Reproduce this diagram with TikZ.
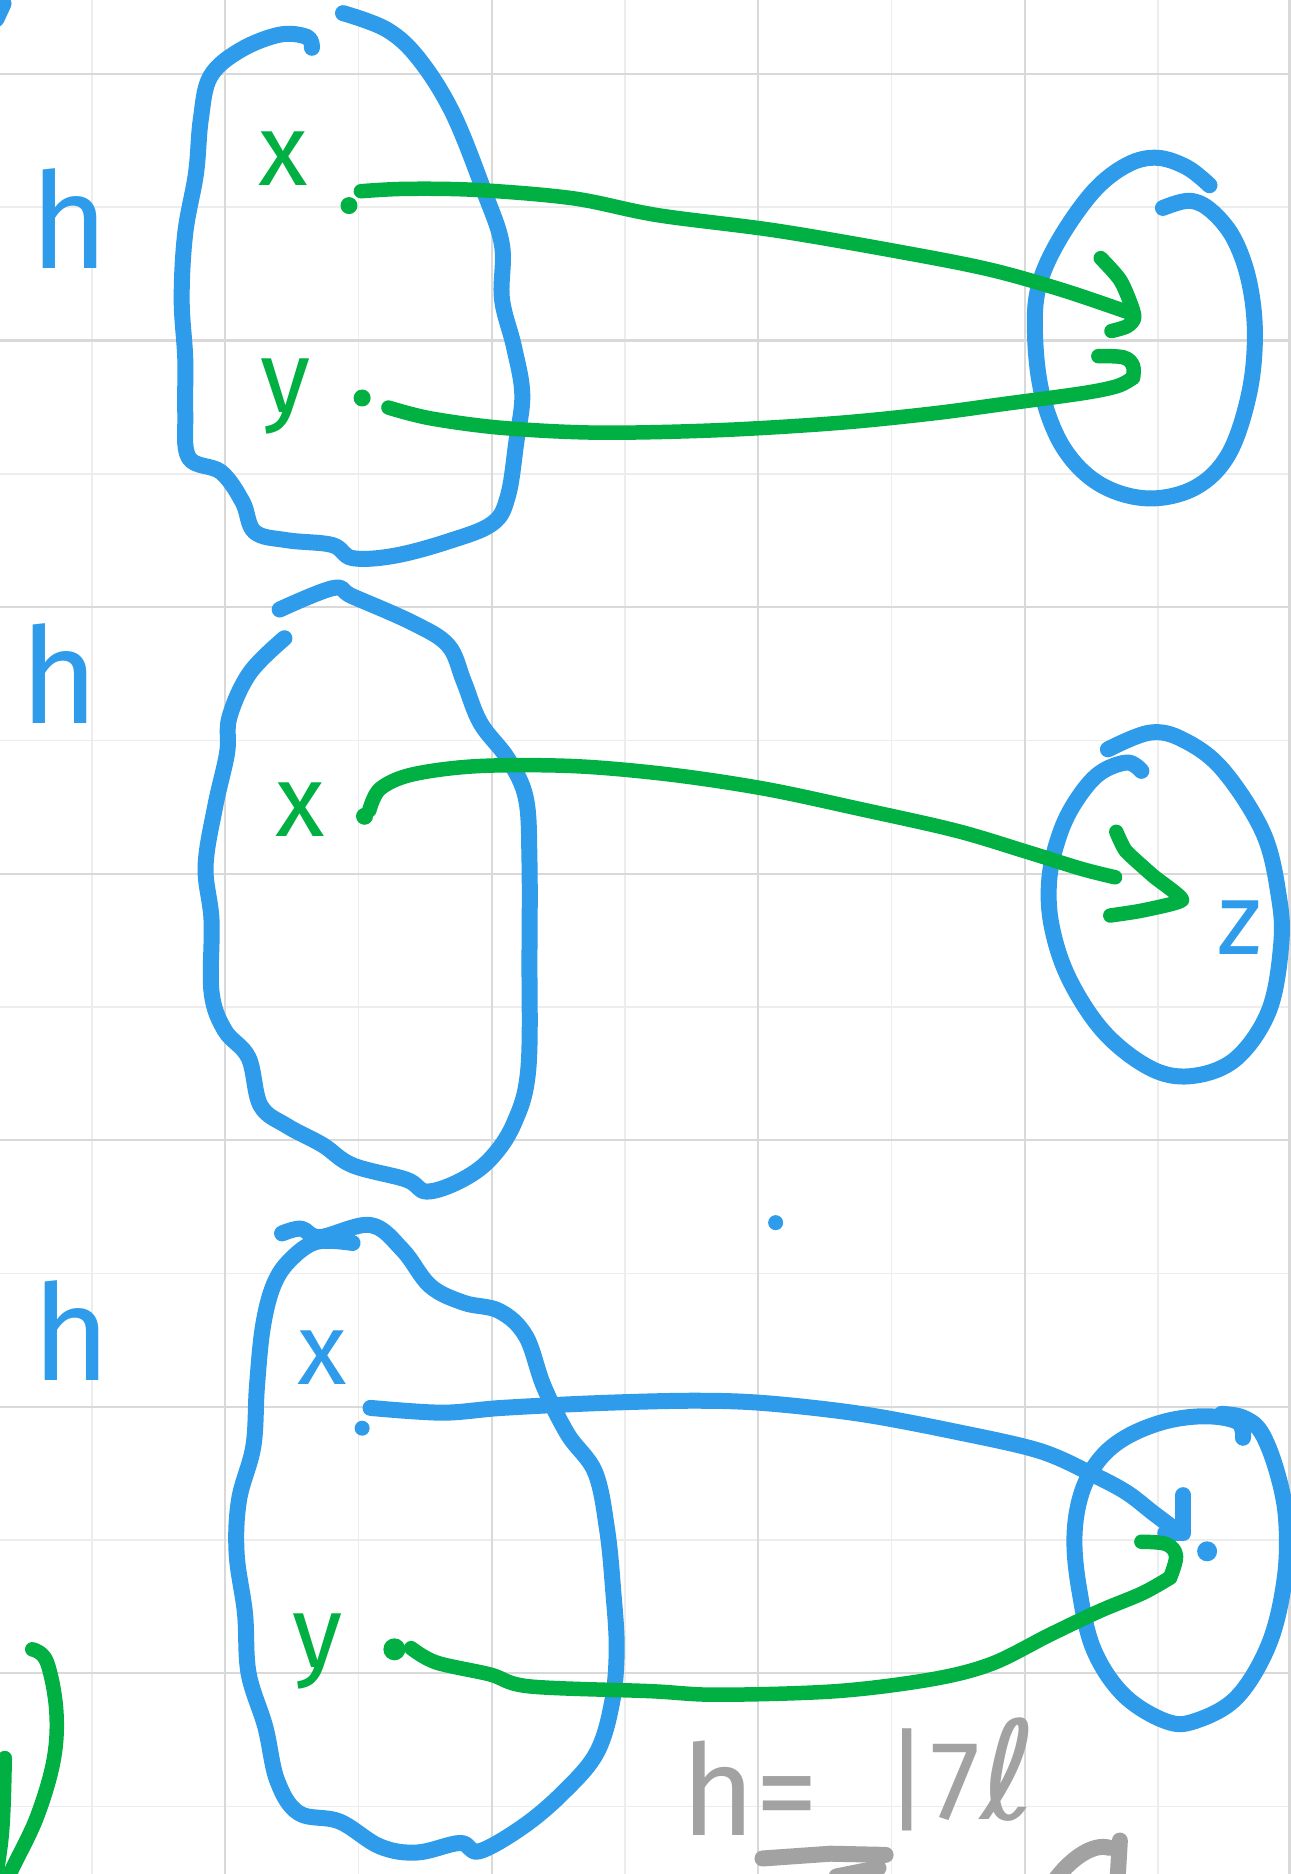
\documentclass[tikz,border=0pt]{standalone}
\usepackage{fontspec}
\setmainfont{Fira Sans}
\newfontfamily\dejavu{DejaVu Sans}
\usepackage{xcolor}
\usepackage{tikz}
\definecolor{penblue}{HTML}{2E9CEA}
\definecolor{pengreen}{HTML}{00B043}
\definecolor{pengray}{HTML}{A2A2A2}
\definecolor{gridmajor}{HTML}{D9D9D9}
\definecolor{gridminor}{HTML}{EDEDED}

\begin{document}
\begin{tikzpicture}[
    x=0.23907mm,y=-0.23907mm,
    ink/.style   = {line width=3.2mm,line cap=round,line join=round},
    blu/.style   = {ink,draw=penblue},
    grn/.style   = {ink,draw=pengreen,line width=2.9mm},
    gry/.style   = {ink,draw=pengray},
    hand/.style  = {inner sep=0pt,anchor=base,font=\fontsize{58}{58}\selectfont},
    bigh/.style  = {hand,font=\fontsize{76}{76}\selectfont,text=penblue},
    gdot/.style  = {circle,fill=pengreen,inner sep=0pt,minimum size=3.4mm},
    bdot/.style  = {circle,fill=penblue,inner sep=0pt,minimum size=3.4mm},
  ]

  \useasboundingbox (0,0) rectangle (1080,1568);
  \clip (0,0) rectangle (1080,1568);
  \fill[white] (0,0) rectangle (1080,1568);

  % squared paper
  \foreach \gx in {77,300,523,746,969}
    \draw[gridminor,line width=0.35mm] (\gx,0) -- (\gx,1568);
  \foreach \gy in {173.5,396.5,619.5,842.5,1065.5,1288.5,1511.5}
    \draw[gridminor,line width=0.35mm] (0,\gy) -- (1080,\gy);
  \foreach \gx in {188.5,411.5,634.5,857.5,1079}
    \draw[gridmajor,line width=0.45mm] (\gx,0) -- (\gx,1568);
  \foreach \gy in {62,285,508,731,954,1177,1400}
    \draw[gridmajor,line width=0.45mm] (0,\gy) -- (1080,\gy);

  % first sketch: x, y -> same point
  \node[bigh] (hA) at (58,225) {h};
  \draw[blu] plot[smooth,tension=0.6] coordinates {(261,40) (257,31) (234,29) (201,42)
    (176,64) (168,100) (164,145) (155,195) (152,250) (155,300) (155,345) (158,383)
    (185,395) (203,420) (213,445) (240,452) (278,456) (295,467) (330,465) (375,453)
    (412,438) (425,415) (432,370) (437,330) (430,290) (420,250) (420,205) (405,160)
    (379,95) (351,50) (324,25) (287,11)};
  \node[hand,text=pengreen] (xA) at (237,155) {x};
  \node[hand,text=pengreen] (yA) at (239,345) {y};
  \node[gdot] (dxA) at (292,172) {};
  \node[gdot] (dyA) at (303,333) {};
  \draw[blu] plot[smooth,tension=0.6] coordinates {(1012,155) (993,140) (968,132) (943,138)
    (915,160) (886,201) (869,240) (866,280) (872,330) (890,375) (920,405) (960,417)
    (1000,408) (1028,380) (1045,330) (1050,280) (1045,235) (1032,199) (1013,176)
    (995,168) (973,174)};
  \coordinate (axA) at (302,160);
  \coordinate (tA1) at (946,262);
  \coordinate (kA1) at (949,266);
  \draw[grn] plot[smooth,tension=0.55] coordinates {(axA) (340,158) (400,159) (480,166)
    (550,180) (650,193) (760,212) (830,226) (890,243) (tA1)};
  \draw[grn] plot[smooth,tension=0.5] coordinates {(921,216) (937,234) (946,254) (kA1)
    (943,273) (930,277)};
  \coordinate (ayA) at (325,341);
  \coordinate (tA2) at (948,316);
  \draw[grn] plot[smooth,tension=0.55] coordinates {(ayA) (360,350) (420,358) (500,362)
    (600,360) (700,354) (780,346) (840,338) (906,329) (935,323) (tA2)};
  \draw[grn] plot[smooth,tension=0.6] coordinates {(tA2) (948,306) (940,299) (919,298)};

  % second sketch: x -> z
  \node[bigh] (hB) at (50,605) {h};
  \draw[blu] plot[smooth,tension=0.6] coordinates {(238,534) (209,563) (192,600)
    (190,630) (180,675) (172,725) (177,770) (177,830) (188,862) (208,885) (218,925)
    (240,942) (270,958) (295,975) (340,987) (357,997) (385,988) (410,970) (430,940)
    (442,895) (443,800) (443,720) (440,668) (425,635) (402,605) (388,570) (375,540)
    (345,521) (295,499) (279,492) (234,510)};
  \node[hand,text=pengreen] (xB) at (251,700) {x};
  \node[gdot] (dxB) at (305,683) {};
  \draw[blu] plot[smooth,tension=0.6] coordinates {(927,627) (962,613) (990,619)
    (1023,644) (1057,697) (1070,750) (1072,790) (1062,845) (1035,885) (1000,900)
    (965,895) (925,865) (895,820) (880,775) (878,735) (887,697) (901,669) (920,647)
    (943,638) (955,645)};
  \node[hand,text=penblue] (zB) at (1037,799) {z};
  \coordinate (axB) at (309,678);
  \coordinate (tB1) at (933,734);
  \coordinate (kB1) at (989,753);
  \draw[grn] plot[smooth,tension=0.55] coordinates {(axB) (318,660) (345,648) (400,641)
    (480,641) (560,648) (640,660) (720,677) (800,695) (860,713) (905,727) (tB1)};
  \draw[grn] plot[smooth,tension=0.3] coordinates {(934,696) (942,712) (965,733)
    (kB1) (955,762) (929,766)};

  % third sketch: x, y -> same point
  \node[bigh] (hC) at (60,1155) {h};
  \draw[blu] plot[smooth,tension=0.6] coordinates {(236,1032) (252,1028) (268,1035)
    (310,1025) (337,1046) (360,1076) (388,1090) (418,1097) (440,1118) (455,1160)
    (475,1200) (498,1232) (508,1280) (513,1330) (516,1380) (512,1425) (499,1467)
    (471,1500) (438,1528) (401,1549) (385,1542) (349,1550) (318,1545) (284,1524)
    (250,1517) (232,1490) (222,1445) (208,1400) (205,1350) (198,1300) (200,1255)
    (212,1210) (215,1160) (220,1110) (229,1075) (243,1054) (265,1039) (295,1040)};
  \node[hand,text=penblue] (xC) at (270,1158) {x};
  \node[hand,text=pengreen] (yC) at (266,1395) {y};
  \node[bdot,minimum size=3mm] (dxC) at (303,1195) {};
  \node[gdot,minimum size=4.4mm] (dyC) at (330,1380) {};
  \node[bdot,minimum size=3mm] (stray) at (649,1023) {};
  \draw[blu] plot[smooth,tension=0.6] coordinates {(1040,1203) (1036,1190) (1010,1185)
    (976,1189) (943,1202) (920,1221) (905,1249) (899,1286) (903,1330) (915,1380)
    (940,1418) (975,1440) (1000,1440) (1035,1420) (1062,1375) (1075,1320) (1076,1270)
    (1068,1230) (1055,1198) (1040,1186) (1022,1183)};
  \node[bdot,minimum size=4mm] (dzC) at (1010,1298) {};
  \coordinate (axC) at (310,1178);
  \coordinate (tC1) at (981,1278);
  \draw[blu] plot[smooth,tension=0.55] coordinates {(axC) (370,1182) (420,1178)
    (500,1174) (580,1172) (640,1174) (720,1183) (800,1198) (870,1214) (915,1234)
    (943,1249) (965,1266) (tC1)};
  \draw[blu] (990,1251) -- (990,1283) -- (975,1283);
  \coordinate (ayC) at (344,1379);
  \coordinate (tC2) at (979,1320);
  \draw[grn] plot[smooth,tension=0.55] coordinates {(ayC) (365,1391) (410,1401)
    (443,1411) (544,1415) (600,1418) (700,1415) (780,1405) (830,1392) (878,1368)
    (920,1348) (956,1333) (tC2)};
  \draw[grn] plot[smooth,tension=0.6] coordinates {(tC2) (984,1302) (976,1292) (955,1290)};

  % margin scribbles
  \draw[blu] (-3,16) -- (3,3);
  \draw[grn] plot[smooth,tension=0.6] coordinates {(27,1380) (39,1390) (47,1430)
    (45,1472) (31,1520) (11,1562) (5,1575)};
  \draw[grn] plot[smooth,tension=0.6] coordinates {(4,1471) (3,1510) (1,1540) (-4,1575)};
  \node[hand,anchor=base west,text=pengray,font=\fontsize{72}{72}\selectfont]
    (noteA) at (570,1536) {h=};
  \node[hand,anchor=base west,text=pengray,font=\fontsize{64}{64}\selectfont]
    (noteB) at (740,1522) {|7{\dejavu\fontsize{78}{78}\selectfont ℓ}};
  \draw[gry] (638,1555) -- (695,1551) -- (741,1552);
  \draw[gry] (700,1570) -- (735,1563);
  \draw[gry] (882,1574) .. controls (895,1556) and (914,1542) .. (928,1546);
  \draw[gry] (937,1540) -- (935,1574);

\end{tikzpicture}
\end{document}
